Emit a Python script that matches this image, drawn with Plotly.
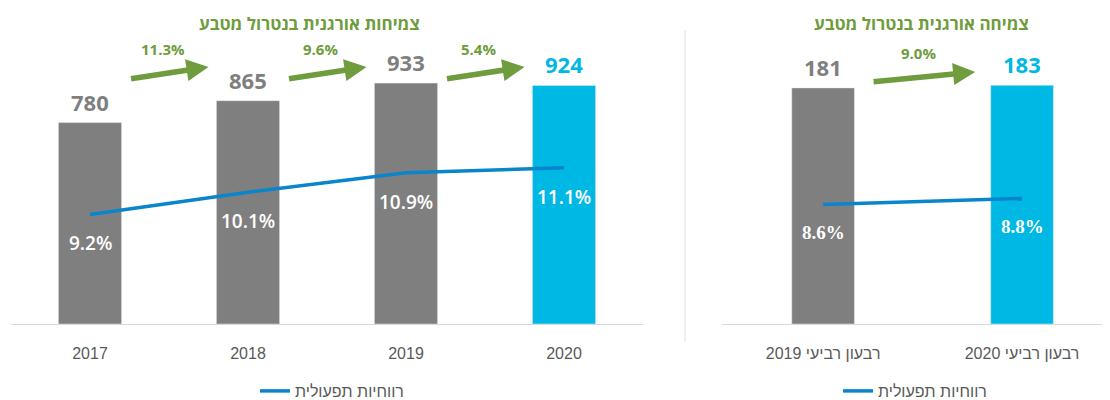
import plotly.graph_objects as go

# yearly panel
years = ["2017", "2018", "2019", "2020"]
revenue = [780, 865, 933, 924]
margin_y = [9.2, 10.1, 10.9, 11.1]
growth_y = ["11.3%", "9.6%", "5.4%"]

# quarterly panel
quarters = ["רבעון רביעי 2019", "רבעון רביעי 2020"]
revenue_q = [181, 183]
margin_q = [8.6, 8.8]
growth_q = ["9.0%"]

legend_name = "רווחיות תפעולית"
title_y = "צמיחות אורגנית בנטרול מטבע"
title_q = "צמיחה אורגנית בנטרול מטבע"

GREY = "#7f7f7f"
BLUE = "#00b8e4"
LINE = "#0a85cc"
GREEN = "#6f9c3d"
TICK = "#595959"
FONT = "Open Sans"
HEB = "Liberation Sans"

W, H = 1110, 400
OFF = 8            # page body margin of the html page
TOP, BASE = 40, 325  # plot area in page pixels


def px(xp):
    return (xp - OFF) / W


def py(yp):
    return (BASE - yp) / (BASE - TOP)


def bar_colors(n):
    return [GREY] * (n - 1) + [BLUE]


fig = go.Figure()

fig.add_trace(go.Bar(x=years, y=revenue, marker_color=bar_colors(len(years)),
                     width=0.4, xaxis="x", yaxis="y", showlegend=False, hoverinfo="skip"))
fig.add_trace(go.Scatter(x=years, y=margin_y, mode="lines", name=legend_name,
                         line=dict(color=LINE, width=3.5), xaxis="x", yaxis="y2",
                         legend="legend"))

fig.add_trace(go.Bar(x=quarters, y=revenue_q, marker_color=bar_colors(len(quarters)),
                     width=0.315, xaxis="x2", yaxis="y3", showlegend=False, hoverinfo="skip"))
fig.add_trace(go.Scatter(x=quarters, y=margin_q, mode="lines", name=legend_name,
                         line=dict(color=LINE, width=3.5), xaxis="x2", yaxis="y4",
                         legend="legend2"))

ann = []

# value labels above bars
for xs, vals, xr, yr in [(years, revenue, "x", "y"), (quarters, revenue_q, "x2", "y3")]:
    cols = bar_colors(len(xs))
    for i, (v, c) in enumerate(zip(vals, cols)):
        ann.append(dict(x=i, y=v, xref=xr, yref=yr, text=str(v), showarrow=False,
                        yshift=21, yanchor="middle",
                        font=dict(size=22, color=c, family=FONT, weight="bold")))

# margin labels below the line
for i, v in enumerate(margin_y):
    ann.append(dict(x=i, y=v, xref="x", yref="y2", text=f"{v:.1f}%", showarrow=False,
                    yshift=-29, yanchor="middle",
                    font=dict(size=19, color="white", family=FONT, weight=600)))
for i, v in enumerate(margin_q):
    ann.append(dict(x=i, y=v, xref="x2", yref="y4", text=f"{v:.1f}%", showarrow=False,
                    yshift=-28, yanchor="middle",
                    font=dict(size=19, color="white", family="Liberation Serif", weight="bold")))

# growth arrows between bars
for i, g in enumerate(growth_y):
    ann.append(dict(x=i + 0.75, y=py(67), xref="x", yref="paper", text="",
                    showarrow=True, ax=-79, ay=12, axref="pixel", ayref="pixel",
                    arrowhead=2, arrowsize=0.8, arrowwidth=5.5, arrowcolor=GREEN,
                    standoff=0))
    ann.append(dict(x=i + 0.46, y=py(49), xref="x", yref="paper", text=g, showarrow=False,
                    xanchor="center", yanchor="middle",
                    font=dict(size=15, color=GREEN, family=FONT, weight="bold")))
for i, g in enumerate(growth_q):
    ann.append(dict(x=i + 0.764, y=py(72), xref="x2", yref="paper", text="",
                    showarrow=True, ax=-103, ay=10, axref="pixel", ayref="pixel",
                    arrowhead=2, arrowsize=0.8, arrowwidth=5.5, arrowcolor=GREEN,
                    standoff=0))
    ann.append(dict(x=i + 0.48, y=py(53), xref="x2", yref="paper", text=g, showarrow=False,
                    xanchor="center", yanchor="middle",
                    font=dict(size=15, color=GREEN, family=FONT, weight="bold")))

# panel titles
for txt, xp in [(title_y, 309), (title_q, 921)]:
    ann.append(dict(x=px(xp), y=py(23), xref="paper", yref="paper", text=txt,
                    showarrow=False, xanchor="center", yanchor="middle",
                    font=dict(size=17, color=GREEN, family=FONT, weight="bold")))

fig.update_layout(
    width=W, height=H,
    margin=dict(l=0, r=0, t=TOP - OFF, b=H - (BASE - OFF)),
    plot_bgcolor="white", paper_bgcolor="white",
    font=dict(family=HEB, color=TICK),
    annotations=ann,
    xaxis=dict(type="category", domain=[px(11), px(643)], range=[-0.5, 3.5],
               showline=True, linecolor="#d9d9d9", linewidth=1, showgrid=False,
               ticks="", ticklabelstandoff=15,
               tickfont=dict(size=16, color=TICK, family=HEB)),
    yaxis=dict(anchor="x", range=[0, 1100], visible=False),
    yaxis2=dict(anchor="x", overlaying="y", range=[4.75, 16.29], visible=False),
    xaxis2=dict(type="category", domain=[px(722), px(1110)], range=[-0.508, 1.442],
                showline=True, linecolor="#d9d9d9", linewidth=1, showgrid=False,
                ticks="", tickvals=quarters, ticktext=[q + "\u200f" for q in quarters],
                ticklabelstandoff=15, tickfont=dict(size=16, color=TICK, family=HEB)),
    yaxis3=dict(anchor="x2", range=[0, 217.7], visible=False),
    yaxis4=dict(anchor="x2", overlaying="y3", range=[4.6, 14.1], visible=False),
    legend=dict(x=px(332), y=py(392), xanchor="center", yanchor="middle",
                font=dict(size=16, color=TICK, family=HEB)),
    legend2=dict(x=px(915), y=py(392), xanchor="center", yanchor="middle",
                 font=dict(size=16, color=TICK, family=HEB)),
    shapes=[dict(type="line", xref="paper", yref="paper", x0=px(685), x1=px(685),
                 y0=py(343), y1=py(30), line=dict(color="#e0e0e0", width=1))],
)

fig.write_html("out.html")
